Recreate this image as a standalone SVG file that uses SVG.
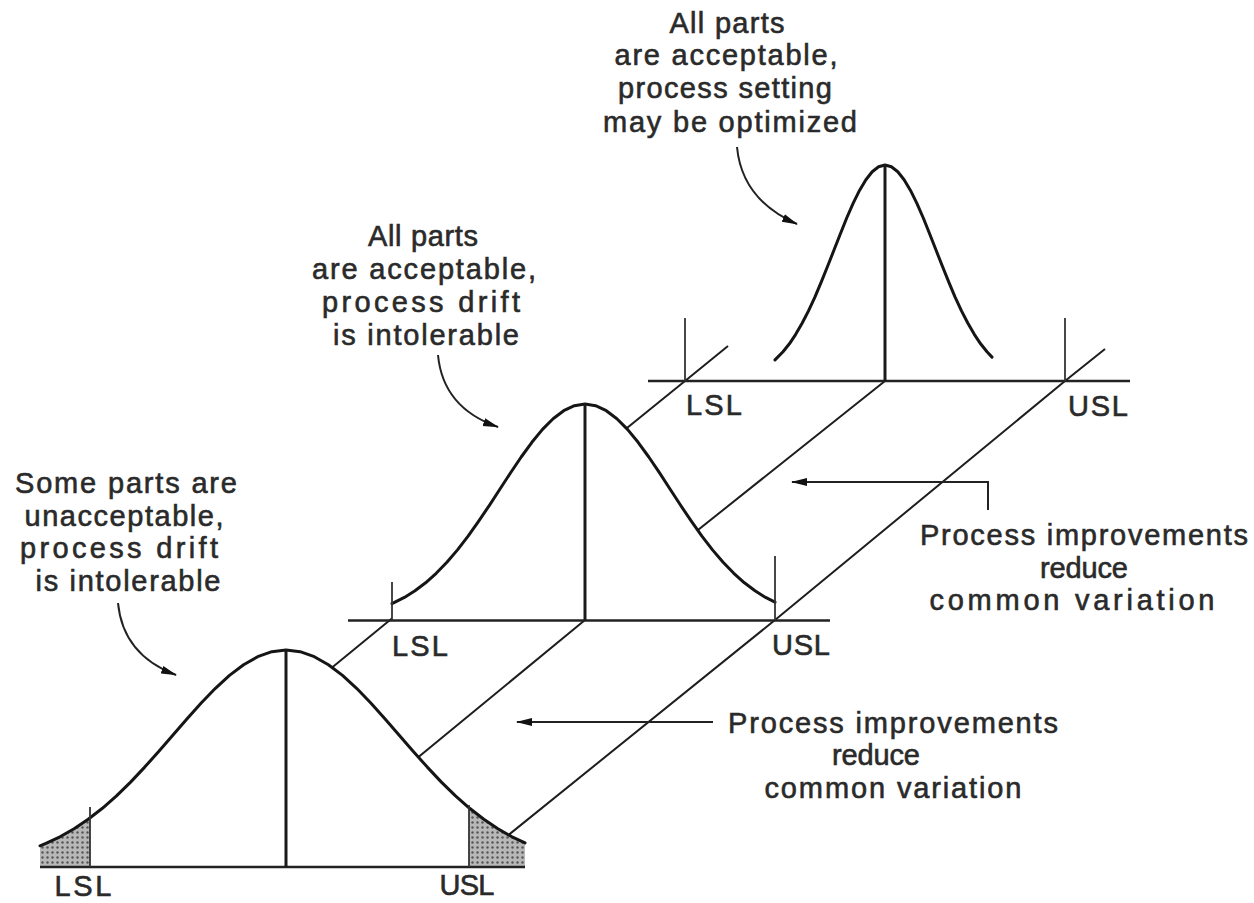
<svg xmlns="http://www.w3.org/2000/svg" width="1254" height="903" viewBox="0 0 1254 903">
<style>
.t{font-family:"Liberation Sans",Arial,sans-serif;font-size:29px;fill:#2a2a2a;stroke:#2a2a2a;stroke-width:0.6;text-anchor:middle}
.ln{stroke:#1e1e1e;stroke-width:2;fill:none}
.base{stroke:#222;stroke-width:2.6;fill:none}
.tick{stroke:#333;stroke-width:1.8;fill:none}
.ctr{stroke:#1a1a1a;stroke-width:3;fill:none}
.crv{stroke:#151515;stroke-width:3;fill:none;stroke-linejoin:round;stroke-linecap:round}
.occ{fill:#fff;stroke:none}
.arr{stroke:#222;stroke-width:2;fill:none}
</style>
<defs>
<marker id="ah" markerWidth="16" markerHeight="10" refX="15" refY="5" orient="auto" markerUnits="userSpaceOnUse"><path d="M0,1 L16,5 L0,9 z" fill="#111"/></marker>
<pattern id="stip" width="5" height="5" patternUnits="userSpaceOnUse"><rect width="5" height="5" fill="#b8b8b8"/><circle cx="2.5" cy="2.5" r="1.2" fill="#555"/></pattern>
</defs>
<rect width="1254" height="903" fill="#fff"/>

<g id="connectors">
<path class="ln" d="M90,866 L390,620 L685,381 L728,346"/>
<path class="ln" d="M286,866 L585,620 L885,381"/>
<path class="ln" d="M470,866 L775,620 L1065,381 L1105,349"/>
</g>

<g id="top-curve">
<path class="occ" d="M775,381 L775,359.9 L783,351.8 L789.4,343.8 L795.7,334.3 L802.1,323.3 L808.5,310.9 L814.9,297.1 L821.2,282.1 L827.6,266.3 L834,250 L840.4,233.7 L846.7,218 L853.1,203.3 L859.5,190.4 L865.9,179.7 L872.2,171.7 L878.6,166.7 L885,165 L891.4,166.7 L897.8,171.7 L904.1,179.7 L910.5,190.4 L916.9,203.3 L923.3,218 L929.6,233.7 L936,250 L942.4,266.3 L948.8,282.1 L955.1,297.1 L961.5,310.9 L967.9,323.3 L974.3,334.3 L980.6,343.8 L987,351.8 L992,357.1 L992,381 Z"/>
<path class="crv" d="M775,359.9 L783,351.8 L789.4,343.8 L795.7,334.3 L802.1,323.3 L808.5,310.9 L814.9,297.1 L821.2,282.1 L827.6,266.3 L834,250 L840.4,233.7 L846.7,218 L853.1,203.3 L859.5,190.4 L865.9,179.7 L872.2,171.7 L878.6,166.7 L885,165 L891.4,166.7 L897.8,171.7 L904.1,179.7 L910.5,190.4 L916.9,203.3 L923.3,218 L929.6,233.7 L936,250 L942.4,266.3 L948.8,282.1 L955.1,297.1 L961.5,310.9 L967.9,323.3 L974.3,334.3 L980.6,343.8 L987,351.8 L992,357.1"/>
<line class="base" x1="648" y1="381" x2="1130" y2="381"/>
<line class="tick" x1="685" y1="318" x2="685" y2="381"/>
<line class="tick" x1="1065" y1="318" x2="1065" y2="381"/>
<line class="ctr" x1="885" y1="164" x2="885" y2="381"/>
<text class="t" x="714" y="415" textLength="56">LSL</text>
<text class="t" x="1098" y="416" textLength="60">USL</text>
</g>

<g id="middle-curve">
<path class="occ" d="M392,620 L392,603.6 L404.4,597.4 L415,590.8 L425.6,582.8 L436.2,573.3 L446.9,562.3 L457.5,549.9 L468.1,536.1 L478.7,521.1 L489.4,505.3 L500,489 L510.6,472.7 L521.2,457 L531.9,442.3 L542.5,429.4 L553.1,418.7 L563.7,410.7 L574.4,405.7 L585,404 L595.6,405.7 L606.3,410.7 L616.9,418.7 L627.5,429.4 L638.1,442.3 L648.8,457 L659.4,472.7 L670,489 L680.6,505.3 L691.3,521.1 L701.9,536.1 L712.5,549.9 L723.1,562.3 L733.8,573.3 L744.4,582.8 L755,590.8 L765.6,597.4 L775,602.2 L775,620 Z"/>
<path class="crv" d="M392,603.6 L404.4,597.4 L415,590.8 L425.6,582.8 L436.2,573.3 L446.9,562.3 L457.5,549.9 L468.1,536.1 L478.7,521.1 L489.4,505.3 L500,489 L510.6,472.7 L521.2,457 L531.9,442.3 L542.5,429.4 L553.1,418.7 L563.7,410.7 L574.4,405.7 L585,404 L595.6,405.7 L606.3,410.7 L616.9,418.7 L627.5,429.4 L638.1,442.3 L648.8,457 L659.4,472.7 L670,489 L680.6,505.3 L691.3,521.1 L701.9,536.1 L712.5,549.9 L723.1,562.3 L733.8,573.3 L744.4,582.8 L755,590.8 L765.6,597.4 L775,602.2"/>
<line class="base" x1="348" y1="620.5" x2="830" y2="620.5"/>
<line class="tick" x1="392" y1="582" x2="392" y2="620"/>
<line class="tick" x1="775" y1="556" x2="775" y2="620"/>
<line class="ctr" x1="585" y1="403" x2="585" y2="620"/>
<text class="t" x="420" y="656" textLength="56">LSL</text>
<text class="t" x="801" y="655" textLength="58">USL</text>
</g>

<g id="bottom-curve">
<path class="occ" d="M40,867 L40,845.8 L45.9,843.4 L60,836.8 L74.1,828.8 L88.2,819.3 L102.4,808.3 L116.5,795.9 L130.6,782.1 L144.7,767.1 L158.9,751.3 L173,735 L187.1,718.7 L201.2,703 L215.4,688.3 L229.5,675.4 L243.6,664.7 L257.7,656.7 L271.9,651.7 L286,650 L300.1,651.7 L314.3,656.7 L328.4,664.7 L342.5,675.4 L356.6,688.3 L370.8,703 L384.9,718.7 L399,735 L413.1,751.3 L427.3,767.1 L441.4,782.1 L455.5,795.9 L469.6,808.3 L483.8,819.3 L497.9,828.8 L512,836.8 L525,842.9 L525,867 Z"/>
<path fill="url(#stip)" d="M40,867 L40,845.8 L45.9,843.4 L60,836.8 L74.1,828.8 L88.2,819.3 L90,818 L90,867 Z"/>
<path fill="url(#stip)" d="M469,867 L469,807.5 L469.6,808.3 L483.8,819.3 L497.9,828.8 L512,836.8 L525,842.9 L525,867 Z"/>
<path class="crv" d="M40,845.8 L45.9,843.4 L60,836.8 L74.1,828.8 L88.2,819.3 L102.4,808.3 L116.5,795.9 L130.6,782.1 L144.7,767.1 L158.9,751.3 L173,735 L187.1,718.7 L201.2,703 L215.4,688.3 L229.5,675.4 L243.6,664.7 L257.7,656.7 L271.9,651.7 L286,650 L300.1,651.7 L314.3,656.7 L328.4,664.7 L342.5,675.4 L356.6,688.3 L370.8,703 L384.9,718.7 L399,735 L413.1,751.3 L427.3,767.1 L441.4,782.1 L455.5,795.9 L469.6,808.3 L483.8,819.3 L497.9,828.8 L512,836.8 L525,842.9"/>
<line class="base" x1="40" y1="867" x2="525" y2="867"/>
<line class="tick" x1="90" y1="807" x2="90" y2="867"/>
<line class="tick" x1="469" y1="805" x2="469" y2="867"/>
<line class="ctr" x1="286" y1="649" x2="286" y2="867"/>
<text class="t" x="83" y="896" textLength="57">LSL</text>
<text class="t" x="467" y="895" textLength="55">USL</text>
</g>

<g id="note-top">
<text class="t" x="727" y="33" textLength="115">All parts</text>
<text class="t" x="726" y="65" textLength="223">are acceptable,</text>
<text class="t" x="725" y="98" textLength="214">process setting</text>
<text class="t" x="730" y="132" textLength="254">may be optimized</text>
<path class="arr" marker-end="url(#ah)" d="M737,147 Q742,200 797,224"/>
</g>

<g id="note-middle">
<text class="t" x="423" y="246" textLength="110">All parts</text>
<text class="t" x="424" y="279" textLength="224">are acceptable,</text>
<text class="t" x="421" y="312" textLength="198">process drift</text>
<text class="t" x="426" y="345" textLength="186">is intolerable</text>
<path class="arr" marker-end="url(#ah)" d="M438,355 Q443,408 498,427"/>
</g>

<g id="note-left">
<text class="t" x="126" y="493" textLength="222">Some parts are</text>
<text class="t" x="124" y="526" textLength="199">unacceptable,</text>
<text class="t" x="119" y="558" textLength="198">process drift</text>
<text class="t" x="128" y="591" textLength="185">is intolerable</text>
<path class="arr" marker-end="url(#ah)" d="M118,603 Q123,655 176,675"/>
</g>

<g id="note-right">
<text class="t" x="1084" y="545" textLength="328">Process improvements</text>
<text class="t" x="1084" y="578" textLength="88">reduce</text>
<text class="t" x="1072" y="610" textLength="285">common variation</text>
<path class="arr" marker-end="url(#ah)" d="M988,510 L988,482 L792,482"/>
</g>

<g id="note-bottom">
<text class="t" x="893" y="733" textLength="330">Process improvements</text>
<text class="t" x="876" y="765" textLength="88">reduce</text>
<text class="t" x="893" y="798" textLength="257">common variation</text>
<path class="arr" marker-end="url(#ah)" d="M713,722 L517,722"/>
</g>
</svg>
